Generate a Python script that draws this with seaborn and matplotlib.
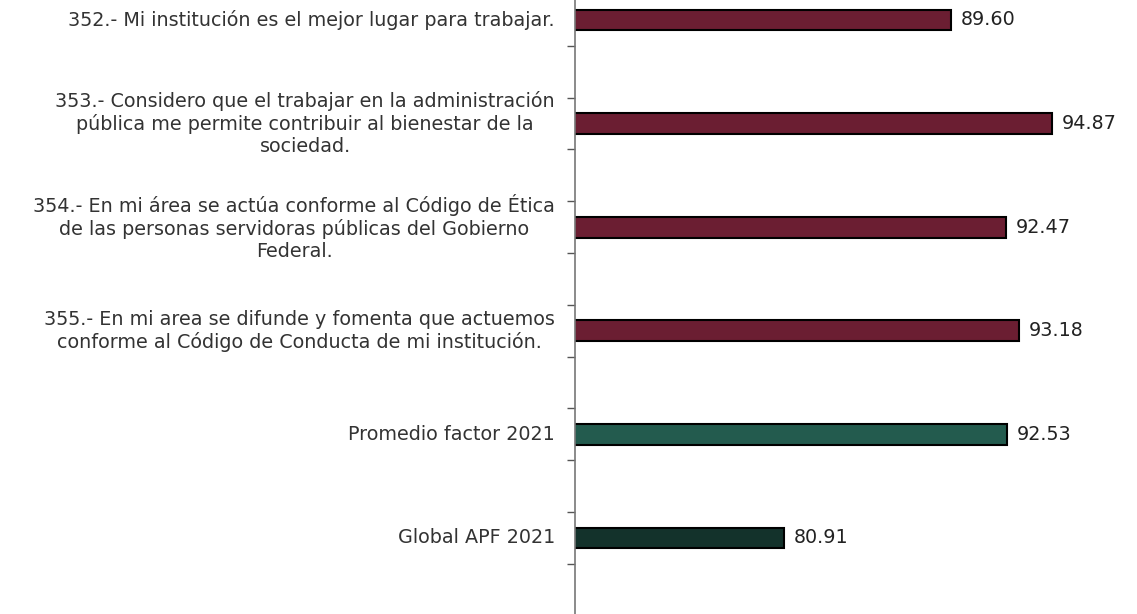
import numpy as np
import pandas as pd
import matplotlib
matplotlib.use("Agg")
import matplotlib.pyplot as plt
import seaborn as sns

# Reactivos del factor y referencias
preguntas = [
    "352.- Mi institución es el mejor lugar para trabajar.",
    "353.- Considero que el trabajar en la administración\npública me permite contribuir al bienestar de la\nsociedad.",
    "354.- En mi área se actúa conforme al Código de Ética\nde las personas servidoras públicas del Gobierno\nFederal.",
    "355.- En mi area se difunde y fomenta que actuemos\nconforme al Código de Conducta de mi institución.",
    "Promedio factor 2021",
    "Global APF 2021",
]
valores = [89.60, 94.87, 92.47, 93.18, 92.53, 80.91]
colores = ["#6b1e32", "#6b1e32", "#6b1e32", "#6b1e32", "#235b4e", "#13322b"]

df = pd.DataFrame({"pregunta": preguntas, "valor": valores})

sns.set_style("white")
plt.rcParams["font.family"] = ["DejaVu Sans"]

fig = plt.figure(figsize=(11.37, 6.14), dpi=100)
ax = fig.add_axes([575 / 1137, 0, 1 - 575 / 1137, 1])

sns.barplot(data=df, x="valor", y="pregunta", hue="pregunta", palette=colores,
            saturation=1, legend=False, width=0.2, edgecolor="black",
            linewidth=1.5, ax=ax)

for i, v in enumerate(valores):
    ax.text(v + 0.5, i, f"{v:.2f}", va="center", ha="left", fontsize=13.8, color="#222222")

ax.set_xlim(70, 99.32)
ax.set_ylim(5.734, -0.193)
ax.set_xlabel("")
ax.set_ylabel("")
ax.set_xticks([])

# marcas a los lados de cada categoria
ax.set_yticks(np.arange(len(preguntas)))
ax.set_yticklabels(preguntas, fontsize=13.8, color="#333333", multialignment="center",
                   va="center")
ax.tick_params(axis="y", which="major", length=0, pad=14.4)
marcas = np.concatenate([np.arange(1, 6) - 0.25, np.arange(6) + 0.25])
ax.set_yticks(marcas, minor=True)
ax.tick_params(axis="y", which="minor", length=6, width=1, color="#555555", left=True)

for s in ["top", "right", "bottom"]:
    ax.spines[s].set_visible(False)
ax.spines["left"].set_color("#777777")
ax.spines["left"].set_linewidth(1.2)

fig.savefig("out.png", dpi=100)
